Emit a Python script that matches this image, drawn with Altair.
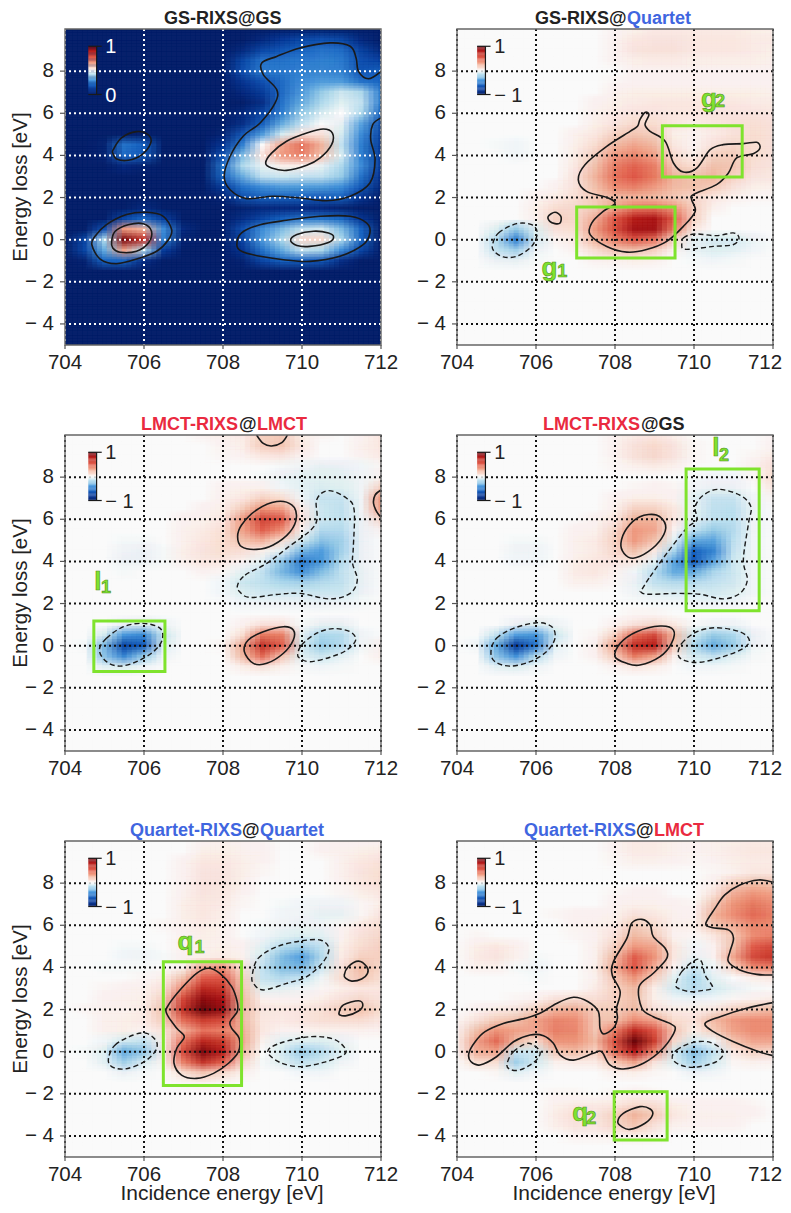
import altair as alt
import pandas as pd

alt.data_transformers.disable_max_rows()

FONT = "Liberation Sans"
GREEN = "#7fe32d"
RED = "#ea2a40"
BLUE = "#3f66e0"
INK = "#222222"
X_TICKS = [704, 706, 708, 710, 712]
Y_TICKS = [-4, -2, 0, 2, 4, 6, 8]
GRID_X = [704 + 0.5 * i for i in range(17)]
GRID_Y = [10 - 0.5 * i for i in range(31)]
BAR_STEPS = list(range(-100, 100, 5))
COLOR_STOPS = [-100, -80, -60, -40, -20, -8, 0, 20, 50, 80, 100]
COLOR_RANGE = ["#08246e", "#0a3a98", "#1a62c0", "#4c9ade", "#b0daef", "#e0f1f6", "#fcfcfc",
               "#f7c4b0", "#e4604f", "#b81c1c", "#6e0a10"]

# (energy loss, first incidence energy, values every 0.5 eV), percent
HEAT_1 = [
    (10, 708, [1, 3, 5, 7, 8, 9, 8, 5, 3]),
    (9.5, 708, [2, 6, 12, 17, 20, 22, 20, 12, 8]),
    (9, 708, [4, 12, 20, 23, 26, 28, 27, 19, 12]),
    (8.5, 708, [6, 20, 28, 28, 29, 30, 29, 22, 19]),
    (8, 708, [7, 22, 29, 29, 30, 31, 30, 23, 25]),
    (7.5, 708, [6, 16, 22, 27, 32, 34, 34, 28, 26]),
    (7, 707.5, [1, 5, 12, 18, 27, 34, 40, 45, 42, 30]),
    (6.5, 708, [5, 8, 14, 28, 36, 42, 47, 44, 30]),
    (6, 705.5, [2, 4, 2, 1, 2, 7, 12, 20, 30, 40, 46, 50, 42, 26]),
    (5.5, 705, [1, 3, 4, 2, 1, 2, 8, 14, 25, 36, 44, 50, 48, 35, 22]),
    (5, 705, [3, 6, 7, 4, 1, 3, 10, 24, 34, 46, 54, 54, 46, 32, 20]),
    (4.5, 704.5, [1, 10, 28, 25, 8, 2, 6, 16, 30, 50, 64, 72, 62, 44, 30, 18]),
    (4, 704.5, [2, 10, 27, 24, 6, 2, 8, 22, 38, 54, 66, 70, 60, 46, 30, 18]),
    (3.5, 705, [5, 12, 10, 4, 2, 8, 28, 42, 48, 52, 52, 48, 42, 32, 18]),
    (3, 705, [2, 5, 5, 2, 2, 8, 26, 36, 44, 45, 44, 44, 40, 28, 15]),
    (2.5, 707, [1, 6, 18, 28, 32, 34, 34, 34, 32, 24, 12]),
    (2, 707, [1, 4, 10, 22, 25, 25, 25, 24, 25, 16, 8]),
    (1.5, 705, [3, 8, 12, 8, 3, 3, 6, 10, 12, 12, 12, 12, 10, 8, 4]),
    (1, 705, [8, 20, 26, 18, 8, 4, 6, 14, 20, 25, 28, 28, 26, 16, 6]),
    (0.5, 704.5, [8, 22, 66, 62, 32, 12, 4, 8, 22, 32, 38, 44, 46, 38, 26, 8]),
    (0, 704.5, [20, 42, 98, 86, 30, 10, 5, 8, 20, 34, 42, 56, 56, 42, 26, 8]),
    (-0.5, 704.5, [20, 36, 65, 42, 18, 6, 4, 6, 16, 28, 36, 44, 42, 32, 20, 6]),
    (-1, 704, [2, 10, 26, 26, 14, 6, 2, 2, 4, 10, 20, 25, 25, 24, 14, 8, 3]),
    (-1.5, 705, [5, 6, 4, 1, 0, 0, 2, 4, 6, 8, 8, 7, 4, 2, 0]),
]
HEAT_2 = [
    (10, 708, [1, 3, 5, 5, 5, 5, 5, 4, 3]),
    (9.5, 708, [2, 6, 7, 7, 6, 6, 6, 5, 5]),
    (9, 708, [2, 7, 8, 8, 6, 6, 6, 5, 4]),
    (8.5, 708, [2, 4, 5, 5, 4, 4, 4, 4, 3]),
    (8, 708, [0, 2, 2, 2, 2, 2, 2, 2, 2]),
    (7.5, 708, [1, 2, 2, 2, 2, 2, 2, 2, 2]),
    (7, 708, [3, 4, 4, 4, 4, 4, 4, 4, 3]),
    (6.5, 707.5, [2, 4, 5, 6, 6, 6, 6, 6, 5, 5]),
    (6, 707.5, [3, 5, 7, 7, 6, 6, 7, 7, 7, 6]),
    (5.5, 707.5, [4, 7, 11, 10, 6, 4, 6, 8, 9, 8]),
    (5, 707, [3, 6, 14, 18, 15, 4, 2, 5, 8, 10, 8]),
    (4.5, 705, [-1, -2, 0, 0, 4, 10, 22, 28, 22, 6, 2, 8, 12, 10, 8]),
    (4, 705.5, [-2, 0, 0, 5, 15, 32, 38, 30, 10, 4, 14, 16, 10, 8]),
    (3.5, 707, [6, 20, 40, 48, 40, 16, 10, 20, 18, 9, 7]),
    (3, 707, [8, 24, 44, 52, 42, 24, 20, 24, 14, 7, 6]),
    (2.5, 706.5, [2, 8, 20, 36, 40, 32, 22, 20, 16, 8, 4, 3]),
    (2, 706, [2, 5, 9, 16, 22, 24, 22, 17, 12, 6, 3, 1, 1]),
    (1.5, 706, [4, 10, 12, 16, 30, 42, 44, 34, 14, 3]),
    (1, 706, [3, 14, 12, 26, 52, 78, 82, 50, 14]),
    (0.5, 705, [-8, -24, -8, 8, 10, 32, 56, 84, 84, 40, 6]),
    (0, 705, [-18, -48, -10, 2, 6, 24, 40, 52, 44, 12, -6, -10, -10, -4]),
    (-0.5, 705, [-14, -22, -4, 0, 2, 10, 18, 20, 14, 2, -5, -8, -6, -2]),
    (-1, 705, [-4, -5, -1, 0, 0, 2, 3, 4, 3, 0, -1, -2, -1]),
]
HEAT_3 = [
    (10, 707.5, [2, 3, 5, 14, 16, 4, 1, 0, 2, 6]),
    (9.5, 708, [2, 4, 16, 18, 6, 0, 0, 3, 6]),
    (9, 708, [1, 2, 6, 7, 2, 0, 0, 2, 5]),
    (8.5, 709, [0, -1, -3, -5, -4, -2, 1]),
    (8, 709, [-1, -4, -6, -7, -6, -3, 2]),
    (7.5, 708, [2, 3, 3, -2, -6, -9, -8, -3, 14]),
    (7, 708, [3, 6, 14, 10, -3, -13, -13, -3, 32]),
    (6.5, 707.5, [2, 4, 16, 34, 30, 5, -12, -15, -3, 30]),
    (6, 707, [2, 3, 6, 32, 60, 52, 8, -12, -15, -4, 12]),
    (5.5, 707, [3, 5, 9, 30, 50, 36, 2, -18, -18, -4, 2]),
    (5, 705.5, [-1, -1, 0, 3, 6, 10, 20, 26, 10, -10, -26, -22, -4]),
    (4.5, 705.5, [-3, -4, -1, 4, 7, 10, 9, 4, -6, -30, -38, -22, -4]),
    (4, 705.5, [-4, -4, -1, 3, 6, 6, 2, -6, -26, -50, -40, -18, -4]),
    (3.5, 705.5, [-1, 0, 0, 0, 2, 1, -6, -14, -30, -42, -28, -15, -5]),
    (3, 708, [-2, -12, -15, -20, -22, -18, -15, -5]),
    (2.5, 708, [-2, -8, -11, -11, -11, -12, -12, -4]),
    (2, 708.5, [-2, -3, -3, -3, -4, -3, -1]),
    (1, 705.5, [-4, -8, -3, 0, 0, 0, 2, 8, 8, -1, -5, -5]),
    (0.5, 705, [-10, -40, -45, -12, 0, 0, 0, 10, 42, 40, -6, -20, -18, -3]),
    (0, 704.5, [-1, -30, -72, -62, -8, 0, 0, 1, 28, 70, 50, -10, -24, -18, -3, 3]),
    (-0.5, 705, [-26, -46, -24, -2, 0, 0, 0, 22, 46, 18, -8, -12, -6, 0, 3]),
    (-1, 705, [-6, -8, -3, 0, 0, 0, 0, 4, 8, 3, -1, -2, -1]),
]
HEAT_4 = [
    (10, 708, [2, 4, 6, 3, 0, 0, 0, 0, 1]),
    (9.5, 708, [2, 8, 11, 7, 1, 0, 0, 0, 2]),
    (9, 708, [2, 8, 12, 7, 1, 0, 0, 1, 5]),
    (8.5, 708, [1, 3, 5, 3, 0, 0, 0, 2, 8]),
    (8, 710, [-1, -2, -2, 1, 10]),
    (7.5, 708.5, [1, 2, 1, -3, -4, -4, 0, 6]),
    (7, 708, [2, 4, 4, 2, -6, -13, -13, -2, 1]),
    (6.5, 708, [3, 14, 14, 6, -5, -15, -16, -4]),
    (6, 707.5, [2, 6, 24, 24, 6, -7, -15, -16, -3]),
    (5.5, 707, [2, 3, 12, 32, 28, 2, -14, -24, -18, -3]),
    (5, 705.5, [-1, -1, 0, 3, 5, 14, 32, 20, -6, -34, -36, -16, -2]),
    (4.5, 705.5, [-3, -3, 0, 3, 5, 12, 20, 6, -20, -58, -46, -14, -2]),
    (4, 705.5, [-2, -2, 0, 4, 6, 7, 6, -6, -36, -62, -36, -12, -2]),
    (3.5, 707, [5, 6, 3, -2, -16, -34, -34, -20, -12, -2]),
    (3, 707, [3, 3, 1, -4, -14, -18, -18, -14, -11, -2]),
    (2.5, 708.5, [-3, -7, -9, -9, -10, -8, -2]),
    (2, 709, [-1, -1, -2, -3, -2]),
    (1.5, 708.5, [1, 1]),
    (1, 705.5, [-4, -8, -3, 0, 0, 2, 8, 12, 6, -1, -3, -3]),
    (0.5, 705, [-14, -38, -40, -12, 0, 1, 14, 46, 58, 22, -12, -24, -20, -4]),
    (0, 704.5, [-2, -34, -78, -52, -6, 0, 3, 30, 72, 78, 18, -20, -34, -24, -4]),
    (-0.5, 705, [-26, -42, -18, -2, 0, 2, 16, 42, 30, 3, -10, -14, -8, -1]),
    (-1, 705, [-6, -8, -3, 0, 0, 0, 2, 6, 4, 0, -2, -2, -1]),
]
HEAT_5 = [
    (10, 707.5, [2, 3, 2, 1, 0, 0, 1, 2, 2, 2]),
    (9.5, 707.5, [4, 4, 3, 2, 0, 0, 2, 3, 4, 5]),
    (9, 707, [2, 6, 6, 4, 2, 0, 0, 0, 3, 6, 8]),
    (8.5, 707, [2, 7, 7, 4, 1, 0, 0, 0, 3, 7, 10]),
    (8, 707, [2, 7, 7, 3, 0, 0, 0, 0, 2, 6, 9]),
    (7.5, 707, [3, 7, 6, 2, 0, 0, 0, 0, 1, 4, 6]),
    (7, 707, [4, 6, 5, 1, 0, -1, -2, -3, -3, 1, 4]),
    (6.5, 707, [4, 6, 4, 0, 0, -2, -3, -5, -5, 1, 7]),
    (6, 706.5, [1, 3, 5, 3, 0, -1, -3, -4, -3, 1, 6, 10]),
    (5.5, 707, [2, 4, 3, 0, -2, -6, -9, -6, 2, 8, 12]),
    (5, 705.5, [-1, -1, 0, 2, 3, 4, 2, -6, -16, -22, -14, 4, 10, 14]),
    (4.5, 705.5, [-2, -3, -1, 2, 4, 5, 3, -10, -28, -38, -18, 5, 14, 14]),
    (4, 705, [-1, -1, -1, 0, 3, 28, 34, 8, -14, -28, -30, -12, 8, 22, 12]),
    (3.5, 706, [1, 4, 20, 50, 52, 14, -13, -18, -14, -3, 10, 18, 9]),
    (3, 705, [1, 2, 3, 8, 38, 74, 68, 18, -7, -6, -3, 1, 4, 6, 6]),
    (2.5, 705, [2, 3, 4, 14, 60, 90, 82, 22, 3, 2, 2, 4, 8, 12, 7]),
    (2, 704.5, [1, 3, 3, 5, 20, 70, 100, 88, 22, 7, 6, 7, 9, 16, 20, 10]),
    (1.5, 705, [3, 4, 5, 16, 46, 66, 58, 22, 6, 5, 7, 9, 10, 10, 6]),
    (1, 705, [3, 4, 2, 8, 26, 44, 40, 26, 6, 2, 2, 3, 3, 3, 2]),
    (0.5, 705, [-2, -10, -14, 4, 44, 74, 66, 28, 3, -6, -8, -8, -4, 0]),
    (0, 704.5, [-1, -8, -34, -26, 3, 58, 94, 78, 24, 0, -10, -24, -18, -8]),
    (-0.5, 705, [-6, -22, -9, 2, 40, 70, 50, 12, -1, -8, -14, -10, -3]),
    (-1, 705.5, [-4, -1, 0, 10, 18, 12, 3, 0, 0, -2, -2]),
    (-1.5, 707, [1, 2, 1]),
]
HEAT_6 = [
    (10, 708, [2, 5, 5, 3, 2, 3, 4, 5, 5]),
    (9.5, 708, [2, 5, 5, 3, 2, 3, 5, 6, 6]),
    (9, 708, [1, 3, 3, 2, 1, 2, 4, 5, 5]),
    (8.5, 710.5, [1, 3, 6, 6]),
    (8, 710.5, [3, 14, 20, 18]),
    (7.5, 708, [1, 2, 2, 0, 0, 8, 26, 34, 30]),
    (7, 708, [2, 3, 3, 2, 1, 18, 34, 42, 36]),
    (6.5, 706.5, [1, 2, 2, 3, 8, 6, 3, 2, 24, 36, 46, 40]),
    (6, 707, [2, 3, 5, 16, 10, 3, 4, 18, 26, 38, 36]),
    (5.5, 704.5, [1, 0, 0, 0, 0, 1, 2, 8, 22, 16, 2, 1, 6, 18, 36, 40]),
    (5, 704.5, [4, 6, 3, 0, 0, 0, 3, 14, 32, 28, 6, -2, 2, 20, 50, 58]),
    (4.5, 704.5, [5, 7, 3, -1, 0, 0, 3, 22, 50, 34, 6, -5, 2, 28, 58, 68]),
    (4, 704.5, [3, 3, -1, -3, 0, 0, 4, 26, 52, 26, 2, -12, -2, 14, 36, 40]),
    (3.5, 706, [-1, 0, 0, 3, 18, 34, 14, -6, -20, -6, 0, 4, 6]),
    (3, 707.5, [5, 14, 22, 4, -10, -18, -10, -5, -1]),
    (2.5, 705.5, [1, 2, 8, 10, 9, 14, 20, 4, -3, -4, -2, 1, 3, 5]),
    (2, 704.5, [2, 5, 7, 14, 24, 26, 16, 16, 22, 8, 5, 4, 6, 14, 18, 22]),
    (1.5, 704, [1, 8, 16, 20, 30, 38, 36, 18, 20, 36, 28, 10, 8, 22, 32, 36, 36]),
    (1, 704, [2, 20, 34, 30, 28, 40, 38, 18, 40, 74, 52, 18, 4, 16, 30, 36, 36]),
    (0.5, 704, [3, 30, 46, 22, 10, 34, 34, 22, 56, 100, 66, 12, -10, -2, 18, 28, 28]),
    (0, 704, [2, 26, 30, -12, -12, 18, 22, 14, 46, 80, 38, -10, -28, -14, 6, 14, 12]),
    (-0.5, 704.5, [10, 10, -22, -10, 3, 5, 5, 18, 30, 8, -8, -22, -10, 1, 3, 2]),
    (-1, 705, [1, -6, -2, 0, 0, 0, 3, 4, 1, 0, -4, -2]),
    (-2, 706.5, [1, 1, 0, 1, 2, 1]),
    (-2.5, 706.5, [3, 5, 5, 6, 10, 9, 4, 2, 2, 2, 1]),
    (-3, 706.5, [5, 9, 7, 14, 24, 16, 6, 3, 3, 3, 2]),
    (-3.5, 706.5, [4, 7, 6, 12, 18, 8, 3, 2, 2, 2]),
    (-4, 707, [2, 2, 3, 4, 2]),
]

# contour outlines: (dashed, closed, [(incidence, loss), ...])
CONTOURS_1 = [
    (False, True, [(704.68, -0.24), (704.76, 0.16), (705.05, 0.71), (705.56, 1.19), (706.07, 1.30), (706.49, 1.11), (706.70, 0.47), (706.62, 0), (706.32, -0.55), (705.90, -0.87), (705.31, -1.14), (704.89, -0.92)]),
    (False, True, [(705.18, -0.08), (705.27, 0.40), (705.60, 0.71), (705.98, 0.76), (706.19, 0.40), (706.11, -0.16), (705.81, -0.55), (705.39, -0.60), (705.21, -0.40)]),
    (False, True, [(705.22, 4.27), (705.43, 4.83), (705.81, 5.13), (706.11, 4.98), (706.17, 4.59), (705.94, 4.03), (705.60, 3.77), (705.31, 3.83), (705.21, 4.11)]),
    (False, False, [(712, 5.78), (711.79, 5.46), (711.74, 4.75), (711.85, 3.80), (711.72, 2.69), (711.22, 2.06), (710.62, 1.85), (709.95, 1.98), (709.27, 2.06), (708.60, 1.95), (708.18, 2.37), (708.03, 3.01), (708.18, 3.96), (708.51, 4.91), (708.94, 5.54), (709.32, 6.49), (709.36, 7.12), (709.02, 7.83), (708.98, 8.39), (709.36, 8.70), (709.95, 9.10), (710.71, 9.34), (711.22, 9.18), (711.37, 8.62), (711.43, 7.99), (711.68, 7.64), (712, 7.99)]),
    (False, True, [(709.08, 3.64), (709.23, 4.11), (709.61, 4.67), (710.12, 5.06), (710.54, 5.25), (710.77, 5.06), (710.75, 4.51), (710.46, 3.88), (710.12, 3.53), (709.61, 3.29), (709.23, 3.40)]),
    (False, True, [(708.35, -0.24), (708.47, 0.32), (708.94, 0.71), (709.61, 0.92), (710.46, 1.11), (711.22, 1.11), (711.64, 0.79), (711.72, 0.32), (711.55, -0.24), (710.96, -0.79), (710.20, -1.03), (709.53, -0.95), (708.94, -0.79), (708.47, -0.55)]),
    (False, True, [(709.71, -0.03), (709.87, 0.24), (710.29, 0.40), (710.67, 0.32), (710.80, 0.13), (710.67, -0.13), (710.20, -0.32), (709.87, -0.28)]),
]
CONTOURS_2 = [
    (True, True, [(704.90, -0.24), (705.05, 0.32), (705.51, 0.76), (705.89, 0.71), (706.03, 0.32), (705.89, -0.32), (705.51, -0.79), (705.17, -0.82), (704.94, -0.55)]),
    (False, True, [(706.31, 1.11), (706.48, 1.30), (706.63, 1.11), (706.61, 0.79), (706.48, 0.76), (706.35, 0.87)]),
    (True, True, [(709.69, -0.24), (709.73, 0.08), (710.02, 0.27), (710.57, 0.19), (710.99, 0.32), (711.14, 0.08), (710.99, -0.24), (710.49, -0.32), (709.98, -0.44), (709.73, -0.44)]),
    (False, True, [(708.63, 5.70), (708.76, 6.04), (708.86, 5.93), (708.76, 5.46), (708.89, 5.14), (709.27, 4.67), (709.48, 3.64), (709.73, 3.21), (710.07, 3.40), (710.41, 4.27), (710.74, 4.51), (711.25, 4.56), (711.59, 4.62), (711.67, 4.35), (711.50, 4.08), (711.08, 3.88), (710.87, 3.16), (710.57, 2.61), (709.98, 2.14), (709.94, 1.90), (710.03, 1.34), (709.73, 0.63), (709.31, -0.08), (708.80, -0.47), (708.30, -0.59), (707.79, -0.32), (707.37, 0.24), (707.41, 0.79), (707.70, 1.34), (708.00, 1.71), (707.83, 1.98), (707.28, 2.29), (707.07, 2.85), (707.24, 3.56), (707.79, 4.43), (708.38, 5.14), (708.57, 5.38)]),
]
CONTOURS_3 = [
    (False, False, [(708.85, 10), (709.02, 9.60), (709.23, 9.48), (709.49, 9.64), (709.63, 10)]),
    (False, False, [(712, 7.39), (711.85, 7.15), (711.81, 6.76), (711.89, 6.36), (712, 6.09)]),
    (False, True, [(708.37, 5.17), (708.47, 5.73), (708.85, 6.44), (709.36, 6.84), (709.74, 6.68), (709.86, 6.12), (709.70, 5.41), (709.27, 4.78), (708.85, 4.57), (708.47, 4.70)]),
    (True, True, [(708.37, 2.88), (708.56, 3.35), (709.11, 3.91), (709.61, 4.62), (710.33, 5.73), (710.37, 6.92), (710.67, 7.36), (711.13, 7.0), (711.32, 6.44), (711.30, 4.70), (711.28, 3.91), (711.40, 3.12), (711.22, 2.48), (710.71, 2.22), (709.95, 2.48), (709.36, 2.43), (708.68, 2.29), (708.42, 2.56)]),
    (False, True, [(708.54, -0.28), (708.64, 0.27), (709.02, 0.66), (709.53, 0.90), (709.78, 0.74), (709.78, 0.27), (709.53, -0.36), (709.11, -0.84), (708.77, -0.84)]),
    (True, True, [(709.89, -0.44), (709.99, 0.03), (710.37, 0.59), (710.79, 0.81), (711.22, 0.66), (711.36, 0.27), (711.13, -0.21), (710.71, -0.55), (710.20, -0.76), (709.95, -0.60)]),
    (True, True, [(704.87, -0.21), (705.05, 0.35), (705.48, 0.90), (705.98, 1.06), (706.41, 0.82), (706.46, 0.27), (706.24, -0.28), (705.81, -0.76), (705.39, -0.97), (705.05, -0.76)]),
]
CONTOURS_4 = [
    (False, True, [(708.15, 4.86), (708.30, 5.57), (708.63, 6.12), (709.05, 6.20), (709.28, 5.73), (709.18, 5.09), (708.84, 4.46), (708.46, 4.15), (708.23, 4.38)]),
    (True, True, [(708.68, 2.67), (708.89, 3.28), (709.31, 4.38), (709.81, 5.57), (710.07, 5.97), (710.03, 6.60), (710.24, 7.15), (710.62, 7.42), (711.16, 7.15), (711.44, 6.60), (711.38, 5.81), (711.25, 4.07), (711.35, 3.12), (711.16, 2.48), (710.74, 2.22), (710.15, 2.44), (709.56, 2.48), (708.84, 2.44), (708.65, 2.56)]),
    (False, True, [(708.0, -0.52), (708.13, 0.11), (708.55, 0.66), (709.14, 0.93), (709.48, 0.74), (709.43, 0.11), (709.14, -0.52), (708.63, -0.92), (708.30, -0.84)]),
    (True, True, [(709.60, -0.44), (709.69, 0.11), (710.07, 0.66), (710.57, 0.85), (711.16, 0.66), (711.40, 0.27), (711.25, -0.13), (710.74, -0.52), (710.15, -0.79), (709.77, -0.71)]),
    (True, True, [(704.86, -0.28), (705.0, 0.35), (705.43, 0.82), (706.02, 1.09), (706.40, 0.90), (706.48, 0.35), (706.27, -0.28), (705.85, -0.76), (705.34, -0.97), (704.96, -0.76)]),
]
CONTOURS_5 = [
    (True, True, [(705.10, -0.32), (705.27, 0.32), (705.73, 0.79), (706.07, 0.87), (706.32, 0.47), (706.28, 0), (705.98, -0.51), (705.52, -0.82), (705.18, -0.71)]),
    (False, True, [(707.63, 3.96), (707.92, 3.72), (708.22, 3.09), (708.36, 2.37), (708.36, 1.90), (708.18, 1.42), (708.22, 1.11), (708.41, 0.63), (708.39, 0), (708.14, -0.55), (707.76, -1.03), (707.33, -1.27), (706.95, -1.11), (706.76, -0.55), (706.83, 0.16), (707.02, 0.71), (706.83, 1.11), (706.57, 1.82), (706.62, 2.22), (706.95, 3.01), (707.33, 3.72)]),
    (True, True, [(708.74, 3.64), (708.89, 4.43), (709.36, 4.98), (709.95, 5.25), (710.46, 5.30), (710.68, 4.91), (710.54, 4.27), (710.12, 3.56), (709.61, 3.24), (709.02, 2.93), (708.77, 3.24)]),
    (False, True, [(711.07, 3.64), (711.17, 4.03), (711.43, 4.30), (711.64, 4.03), (711.66, 3.72), (711.51, 3.45), (711.26, 3.35), (711.11, 3.48)]),
    (False, True, [(710.94, 1.87), (711.05, 2.22), (711.43, 2.42), (711.54, 2.22), (711.43, 1.93), (711.13, 1.71), (710.96, 1.74)]),
    (True, True, [(709.13, 0), (709.44, 0.40), (710.20, 0.71), (710.79, 0.60), (711.09, 0.16), (711.05, -0.16), (710.54, -0.51), (709.95, -0.71), (709.44, -0.51)]),
]
CONTOURS_6 = [
    (False, True, [(704.30, -0.08), (704.46, 0.47), (704.71, 0.95), (705.17, 1.34), (705.72, 1.58), (706.10, 1.82), (706.52, 2.29), (706.95, 2.58), (707.32, 2.37), (707.58, 1.90), (707.62, 1.11), (707.72, 0.84), (707.96, 1.11), (708.06, 1.58), (708.04, 2.06), (708.13, 2.85), (707.93, 3.64), (707.96, 4.27), (708.30, 5.38), (708.42, 6.09), (708.68, 6.28), (708.89, 6.01), (708.97, 5.46), (709.27, 4.91), (709.31, 4.43), (708.97, 3.72), (708.61, 3.09), (708.68, 2.06), (708.97, 1.66), (709.39, 1.34), (709.52, 1.03), (709.22, 0.16), (708.72, -0.55), (708.21, -0.82), (707.87, -0.63), (707.66, 0), (707.45, -0.08), (706.95, -0.40), (706.61, -0.16), (706.44, 0.40), (706.19, 0.76), (705.85, 0.79), (705.43, 0.47), (705.0, -0.24), (704.58, -0.63), (704.35, -0.47)]),
    (False, False, [(712, 8.04), (711.63, 8.15), (711.16, 7.91), (710.78, 7.44), (710.53, 6.80), (710.30, 6.09), (710.45, 5.89), (710.87, 5.78), (711.0, 5.38), (710.91, 4.75), (710.87, 4.27), (711.16, 3.88), (711.59, 3.67), (712, 3.64)]),
    (False, False, [(712, 2.33), (711.33, 2.06), (710.66, 1.66), (710.28, 1.34), (710.49, 0.95), (711.0, 0.47), (711.59, 0.03), (712, -0.19)]),
    (True, True, [(709.54, 3.16), (709.69, 3.80), (710.03, 4.35), (710.19, 4.27), (710.28, 3.64), (710.47, 3.04), (710.19, 2.90), (709.90, 2.85), (709.65, 2.97)]),
    (True, True, [(709.45, -0.32), (709.56, 0.08), (709.98, 0.44), (710.41, 0.44), (710.74, 0), (710.57, -0.47), (710.03, -0.74), (709.65, -0.63)]),
    (True, True, [(705.27, -0.55), (705.43, 0), (705.81, 0.40), (706.10, 0), (705.97, -0.47), (705.59, -0.87), (705.32, -0.82)]),
    (False, True, [(708.07, -3.32), (708.21, -2.93), (708.63, -2.61), (708.89, -2.72), (708.95, -3.01), (708.76, -3.40), (708.38, -3.69), (708.17, -3.56)]),
]

BOXES_2 = [(707.03, 709.52, -0.87, 1.55), (709.2, 711.22, 2.97, 5.41)]
BOXES_3 = [(704.73, 706.53, -1.23, 1.17)]
BOXES_4 = [(709.80, 711.65, 1.66, 8.39)]
BOXES_5 = [(706.49, 708.47, -1.61, 4.27)]
BOXES_6 = [(707.98, 709.32, -4.19, -1.90)]

# (text, left, centre loss, size)
LABELS_2 = [("g", 706.14, -1.34, 26), ("1", 706.54, -1.52, 18), ("g", 710.18, 6.68, 26), ("2", 710.53, 6.52, 18)]
LABELS_3 = [("l", 704.74, 3.04, 26), ("1", 704.91, 2.72, 18)]
LABELS_4 = [("l", 710.46, 9.37, 26), ("2", 710.63, 9.0, 18)]
LABELS_5 = [("q", 706.85, 5.19, 26), ("1", 707.28, 4.94, 18)]
LABELS_6 = [("q", 706.92, -2.93, 26), ("2", 707.27, -3.20, 18)]

# (text, colour, left in px from plot edge)
TITLE_1 = [("GS-RIXS@GS", INK, 99)]
TITLE_2 = [("GS-RIXS@", INK, 78), ("Quartet", BLUE, 170)]
TITLE_3 = [("LMCT-RIXS", RED, 76), ("@", INK, 174), ("LMCT", RED, 192)]
TITLE_4 = [("LMCT-RIXS", RED, 86), ("@GS", INK, 184)]
TITLE_5 = [("Quartet-RIXS", BLUE, 65), ("@", INK, 177), ("Quartet", BLUE, 195)]
TITLE_6 = [("Quartet-RIXS", BLUE, 67), ("@", INK, 179), ("LMCT", RED, 197)]

PW, PH = 316, 316
SX = alt.Scale(domain=[704, 712], nice=False, zero=False)
SY = alt.Scale(domain=[-5, 10], nice=False, zero=False)
SC = alt.Scale(domain=COLOR_STOPS, range=COLOR_RANGE, clamp=True)


def px(field):
    return alt.X(field, scale=SX, axis=None)


def py(field):
    return alt.Y(field, scale=SY, axis=None)


def grid_frame(rows, base, to_unit):
    cells = {(x, y): base for x in GRID_X for y in GRID_Y}
    for y, x0, vals in rows:
        for i, v in enumerate(vals):
            x = x0 + 0.5 * i
            if (x, y) in cells:
                cells[(x, y)] = v
    return pd.DataFrame([{"x": k[0], "y": k[1], "u": to_unit(v)} for k, v in cells.items()])


def heat_layers(df):
    layers = []
    k = 0
    offs = [-0.1875, -0.0625, 0.0625, 0.1875]
    for oy in offs:
        for ox in offs:
            pad = 0.03 if k == 0 else 0.0
            c = (
                alt.Chart(df)
                .transform_calculate(
                    x0=f"datum.x-0.25-{pad}+({ox})",
                    x1=f"datum.x+0.25+{pad}+({ox})",
                    y0=f"datum.y-0.25-{pad}+({oy})",
                    y1=f"datum.y+0.25+{pad}+({oy})",
                )
                .mark_rect(clip=True, opacity=1 / (k + 1))
                .encode(
                    x=px("x0:Q"), x2="x1:Q", y=py("y0:Q"), y2="y1:Q",
                    color=alt.Color("u:Q", scale=SC, legend=None),
                )
            )
            layers.append(c)
            k += 1
    return layers


def tick_text(v):
    return f"\u2212 {abs(v)}" if v < 0 else str(v)


def axis_layers(show_y_title, show_x_title):
    out = []
    xt = pd.DataFrame([{"a": v, "c": -5 - 4 / 21.07, "d": -5, "t": str(v)} for v in X_TICKS])
    yt = pd.DataFrame([{"a": 704 - 5 / 39.5, "b": 704, "c": v, "t": tick_text(v)} for v in Y_TICKS])
    out.append(alt.Chart(xt).mark_rule(color="#555555", strokeWidth=1.2).encode(
        x=px("a:Q"), y=py("c:Q"), y2="d:Q"))
    out.append(alt.Chart(yt).mark_rule(color="#555555", strokeWidth=1.2).encode(
        x=px("a:Q"), x2="b:Q", y=py("c:Q")))
    # the right column's last label is nudged inward so the page edge does not cut it
    nudge = 0 if show_y_title else 8 / 39.5
    xl = pd.DataFrame([{"a": v - (nudge if v == 712 else 0), "c": -5, "t": str(v)} for v in X_TICKS])
    yl = pd.DataFrame([{"a": 704, "c": v, "t": tick_text(v)} for v in Y_TICKS])
    out.append(alt.Chart(xl).mark_text(
        align="center", baseline="middle", dy=18, font=FONT, fontSize=20.5, color=INK,
    ).encode(x=px("a:Q"), y=py("c:Q"), text="t:N"))
    out.append(alt.Chart(yl).mark_text(
        align="right", baseline="middle", dx=-11, font=FONT, fontSize=20.5, color=INK,
    ).encode(x=px("a:Q"), y=py("c:Q"), text="t:N"))
    if show_y_title:
        out.append(alt.Chart(pd.DataFrame({"t": ["Energy loss [eV]"]})).mark_text(
            align="center", baseline="middle", angle=270, font=FONT, fontSize=20.5, color=INK,
        ).encode(x=alt.value(-44), y=alt.value(158), text="t:N"))
    if show_x_title:
        out.append(alt.Chart(pd.DataFrame({"t": ["Incidence energy [eV]"]})).mark_text(
            align="center", baseline="middle", font=FONT, fontSize=21, color=INK,
        ).encode(x=alt.value(157), y=alt.value(353), text="t:N"))
    return out


def rect_outline(boxes, color, width):
    df = pd.DataFrame(boxes, columns=["a", "b", "c", "d"])
    return alt.Chart(df).mark_rect(fillOpacity=0, stroke=color, strokeWidth=width).encode(
        x=px("a:Q"), x2="b:Q", y=py("c:Q"), y2="d:Q",
    )


def panel(rows, base, to_unit, contours, boxes, labels, title, grid_color, bar_left, low_label,
          bar_text, show_y, show_x):
    df = grid_frame(rows, base, to_unit)
    layers = heat_layers(df)

    gx = pd.DataFrame({"v": X_TICKS})
    gy = pd.DataFrame({"v": Y_TICKS})
    rule = dict(color=grid_color, strokeWidth=2, strokeDash=[2, 3])
    layers.append(alt.Chart(gx).mark_rule(**rule).encode(x=px("v:Q")))
    layers.append(alt.Chart(gy).mark_rule(**rule).encode(y=py("v:Q")))

    for dashed, closed, pts in contours:
        cd = pd.DataFrame([{"i": i, "a": p[0], "b": p[1]} for i, p in enumerate(pts)])
        kw = dict(color="#1a1a1a", strokeWidth=1.6, clip=True,
                  interpolate="cardinal-closed" if closed else "cardinal")
        if dashed:
            kw["strokeDash"] = [5, 3]
            kw["strokeWidth"] = 1.4
        layers.append(alt.Chart(cd).mark_line(**kw).encode(
            x=px("a:Q"), y=py("b:Q"), order="i:Q",
        ))

    if boxes:
        layers.append(rect_outline(boxes, GREEN, 3))
    if labels:
        ld = pd.DataFrame(labels, columns=["t", "a", "b", "s"])
        layers.append(alt.Chart(ld).mark_text(
            align="left", baseline="middle", font=FONT, fontWeight="bold",
            color=GREEN, stroke="#4f8f25", strokeWidth=0.6,
        ).encode(
            x=px("a:Q"), y=py("b:Q"), text="t:N",
            size=alt.Size("s:Q", scale=None, legend=None),
        ))

    # colour bar
    n = len(BAR_STEPS)
    y_lo, y_hi = 6.89, 9.18
    bar = pd.DataFrame([
        {"a": bar_left, "b": bar_left + 0.21,
         "c": y_lo + (y_hi - y_lo) * i / n, "d": y_lo + (y_hi - y_lo) * (i + 1.1) / n, "u": u + 2.5}
        for i, u in enumerate(BAR_STEPS)
    ])
    layers.append(alt.Chart(bar).mark_rect().encode(
        x=px("a:Q"), x2="b:Q", y=py("c:Q"), y2="d:Q",
        color=alt.Color("u:Q", scale=SC, legend=None),
    ))
    right = bar_left + 0.21
    br = pd.DataFrame([
        {"a": right, "b": right, "c": y_lo, "d": y_hi},
        {"a": bar_left, "b": right + 0.13, "c": y_hi, "d": y_hi},
        {"a": bar_left, "b": right + 0.13, "c": y_lo, "d": y_lo},
    ])
    layers.append(alt.Chart(br).mark_rule(color="#1a1a1a", strokeWidth=1.2).encode(
        x=px("a:Q"), x2="b:Q", y=py("c:Q"), y2="d:Q",
    ))
    bl = pd.DataFrame([
        {"t": "1", "a": right + 0.22, "b": 9.13},
        {"t": low_label, "a": right + 0.22, "b": 6.84},
    ])
    layers.append(alt.Chart(bl).mark_text(
        align="left", baseline="middle", font=FONT, fontSize=20, color=bar_text,
    ).encode(x=px("a:Q"), y=py("b:Q"), text="t:N"))

    # frame
    layers.append(rect_outline([(704, 712, -5, 10)], "#666666", 1.4))
    layers += axis_layers(show_y, show_x)

    # title pieces
    for text, col, left in title:
        td = pd.DataFrame({"t": [text]})
        layers.append(alt.Chart(td).mark_text(
            align="left", baseline="alphabetic", font=FONT, fontWeight="bold", fontSize=18, color=col,
        ).encode(x=alt.value(left), y=alt.value(-5), text="t:N"))

    return alt.layer(*layers).properties(width=PW, height=PH)


one = lambda v: 2 * v - 100 if v >= 50 else 2.4 * v - 120
same = lambda v: v
LOW = "\u2212 1"

p1 = panel(HEAT_1, 0, one, CONTOURS_1, [], [], TITLE_1, "white", 704.59, "0", "white", True, False)
p2 = panel(HEAT_2, 0, same, CONTOURS_2, BOXES_2, LABELS_2, TITLE_2, "#111111", 704.51, LOW, INK, False, False)
p3 = panel(HEAT_3, 0, same, CONTOURS_3, BOXES_3, LABELS_3, TITLE_3, "#111111", 704.59, LOW, INK, True, False)
p4 = panel(HEAT_4, 0, same, CONTOURS_4, BOXES_4, LABELS_4, TITLE_4, "#111111", 704.51, LOW, INK, False, False)
p5 = panel(HEAT_5, 0, same, CONTOURS_5, BOXES_5, LABELS_5, TITLE_5, "#111111", 704.59, LOW, INK, True, True)
p6 = panel(HEAT_6, 0, same, CONTOURS_6, BOXES_6, LABELS_6, TITLE_6, "#111111", 704.51, LOW, INK, False, True)

chart = alt.concat(p1, p2, p3, p4, p5, p6, columns=2, spacing={"column": 76, "row": 90}, bounds="flush").properties(
    autosize=alt.AutoSizeParams(type="none", contains="content"),
    padding={"left": 57, "top": 21, "right": 718, "bottom": 1176},
).configure_view(stroke=None)

chart.save("out.html", embed_options={"renderer": "svg", "actions": False})
